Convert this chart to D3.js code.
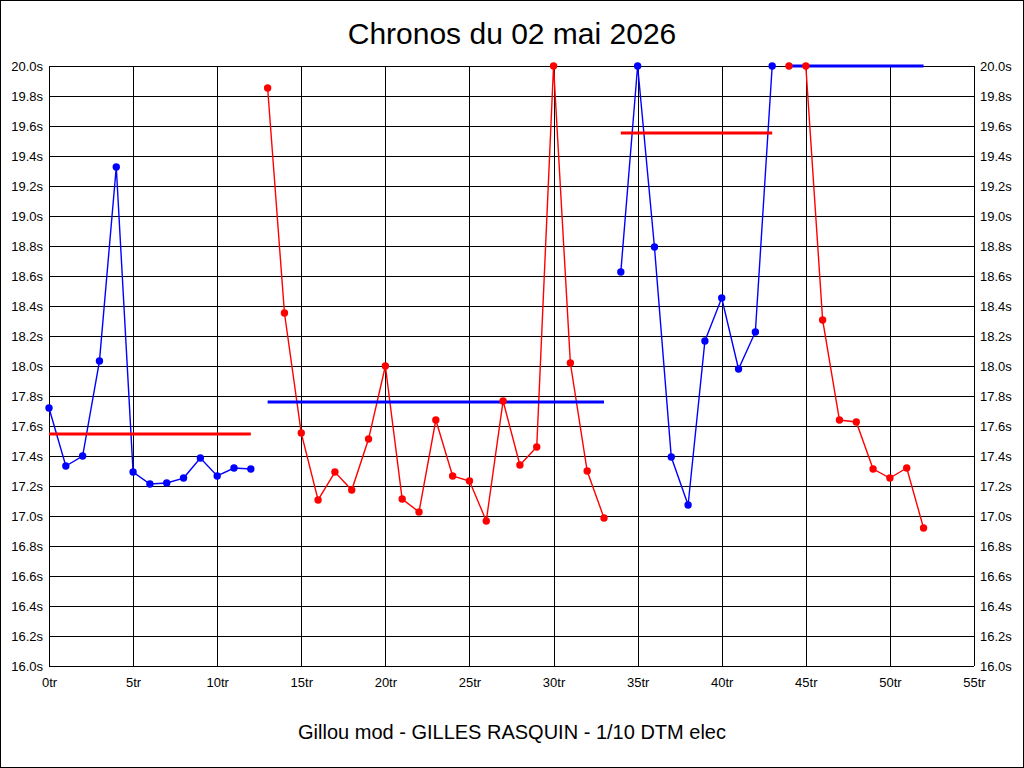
<!DOCTYPE html>
<html>
<head>
<meta charset="utf-8">
<script src="https://cdn.jsdelivr.net/npm/d3@7"></script>
<style>
  body { margin: 0; background: #fff; }
  svg { display: block; }
  text { font-family: "Liberation Sans", Arial, sans-serif; fill: #000; }
</style>
</head>
<body>
<div id="chart"></div>
<script>
// Lap times per run (lap number, seconds) - capped at 20.0s
const run1Laps = [0, 1, 2, 3, 4, 5, 6, 7, 8, 9, 10, 11, 12];
const run1Times = [17.72, 17.333, 17.4, 18.033, 19.327, 17.293, 17.213, 17.22, 17.253, 17.387, 17.267, 17.32, 17.313];

const run2Laps = [13, 14, 15, 16, 17, 18, 19, 20, 21, 22, 23, 24, 25, 26, 27, 28, 29, 30, 31, 32, 33];
const run2Times = [19.853, 18.353, 17.553, 17.107, 17.293, 17.173, 17.513, 18.0, 17.113, 17.027, 17.64, 17.267, 17.233, 16.967, 17.767, 17.34, 17.46, 20.0, 18.02, 17.3, 16.987];

const run3Laps = [34, 35, 36, 37, 38, 39, 40, 41, 42, 43];
const run3Times = [18.627, 20.0, 18.793, 17.393, 17.073, 18.167, 18.453, 17.98, 18.227, 20.0];

const run4Laps = [44, 45, 46, 47, 48, 49, 50, 51, 52];
const run4Times = [20.0, 20.0, 18.307, 17.64, 17.627, 17.313, 17.253, 17.32, 16.92];

// average per run, drawn in the other colour
const runAverages = [17.547, 17.76, 19.553, 20.0];
const runColors = ["blue", "red", "blue", "red"];
const avgColors = ["red", "blue", "red", "blue"];

const yTicks = [16.0, 16.2, 16.4, 16.6, 16.8, 17.0, 17.2, 17.4, 17.6, 17.8, 18.0, 18.2, 18.4, 18.6, 18.8, 19.0, 19.2, 19.4, 19.6, 19.8, 20.0];
const xTicks = [0, 5, 10, 15, 20, 25, 30, 35, 40, 45, 50, 55];

const titleText = "Chronos du 02 mai 2026";
const footerText = "Gillou mod - GILLES RASQUIN - 1/10 DTM elec";

const W = 1024, H = 768;
const margin = { top: 66, right: 50, bottom: 102, left: 49 };

const svg = d3.select("#chart").append("svg")
  .attr("width", W)
  .attr("height", H);

// outer frame
svg.append("rect")
  .attr("x", 0.5).attr("y", 0.5)
  .attr("width", W - 1).attr("height", H - 1)
  .attr("fill", "white").attr("stroke", "black");

let x = d3.scaleLinear().domain([0, 55]).range([margin.left, W - margin.right]);
let y = d3.scaleLinear().domain([16, 20]).range([H - margin.bottom, margin.top]);

// grid lines
const grid = svg.append("g").attr("shape-rendering", "crispEdges");
grid.selectAll(".hgrid").data(yTicks).enter().append("line")
  .attr("x1", x(0)).attr("x2", x(55))
  .attr("y1", d => Math.round(y(d)) + 0.5).attr("y2", d => Math.round(y(d)) + 0.5)
  .attr("stroke", "black");
grid.selectAll(".vgrid").data(xTicks).enter().append("line")
  .attr("y1", y(20)).attr("y2", y(16))
  .attr("x1", d => Math.round(x(d)) + 0.5).attr("x2", d => Math.round(x(d)) + 0.5)
  .attr("stroke", "black");

// axes labels (no domain / ticks, only text)
const fmtY = d => d.toFixed(1) + "s";
const leftAxis = svg.append("g")
  .attr("transform", `translate(${x(0) - 3},0)`)
  .call(d3.axisLeft(y).tickValues(yTicks).tickFormat(fmtY).tickSize(0));
const rightAxis = svg.append("g")
  .attr("transform", `translate(${x(55) + 3},0)`)
  .call(d3.axisRight(y).tickValues(yTicks).tickFormat(fmtY).tickSize(0));
const bottomAxis = svg.append("g")
  .attr("transform", `translate(0,${y(16) + 6})`)
  .call(d3.axisBottom(x).tickValues(xTicks).tickFormat(d => d + "tr").tickSize(0));

[leftAxis, rightAxis, bottomAxis].forEach(a => {
  a.select(".domain").remove();
  a.selectAll("text")
    .style("font-family", '"Liberation Sans", Arial, sans-serif')
    .style("font-size", "13px")
    .attr("fill", "black");
});
bottomAxis.selectAll("text").attr("dy", "0.9em");

// runs
const runs = [
  { laps: run1Laps, times: run1Times },
  { laps: run2Laps, times: run2Times },
  { laps: run3Laps, times: run3Times },
  { laps: run4Laps, times: run4Times }
].map((r, i) => ({
  points: r.laps.map((l, j) => ({ lap: l, t: r.times[j] })),
  avg: runAverages[i],
  color: runColors[i],
  avgColor: avgColors[i]
}));

const line = d3.line().x(d => x(d.lap)).y(d => y(d.t));

svg.append("g").selectAll("path")
  .data(runs).enter().append("path")
  .attr("d", d => line(d.points))
  .attr("fill", "none")
  .attr("stroke", d => d.color)
  .attr("stroke-width", 1.4);

svg.append("g").selectAll("line")
  .data(runs).enter().append("line")
  .attr("x1", d => x(d.points[0].lap))
  .attr("x2", d => x(d.points[d.points.length - 1].lap))
  .attr("y1", d => y(d.avg)).attr("y2", d => y(d.avg))
  .attr("stroke", d => d.avgColor)
  .attr("stroke-width", 3);

svg.append("g").selectAll("g")
  .data(runs).enter().append("g")
  .attr("fill", d => d.color)
  .selectAll("circle")
  .data(d => d.points).enter().append("circle")
  .attr("cx", d => x(d.lap))
  .attr("cy", d => y(d.t))
  .attr("r", 3.7);

// title and footer
svg.append("text")
  .attr("x", W / 2).attr("y", 44)
  .attr("text-anchor", "middle")
  .style("font-size", "30px")
  .text(titleText);

svg.append("text")
  .attr("x", W / 2).attr("y", 739)
  .attr("text-anchor", "middle")
  .style("font-size", "20px")
  .text(footerText);
</script>
</body>
</html>
